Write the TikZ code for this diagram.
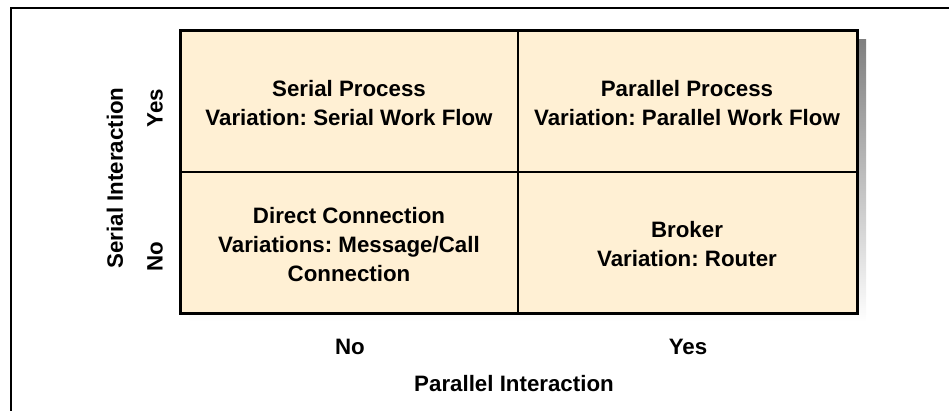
\documentclass[tikz,border=0pt]{standalone}
\usepackage{fontspec}
\setmainfont{Liberation Sans}
\frenchspacing
\definecolor{cellfill}{HTML}{FFF0D4}
\definecolor{shade}{HTML}{C0C0C0}
\tikzset{
  lbl/.style={font=\fontsize{22.3}{29}\selectfont\bfseries, align=center, inner sep=0pt},
}
\begin{document}
\begin{tikzpicture}[x=1pt,y=-1pt]
\useasboundingbox (0,0) rectangle (949,411);
% outer frame
\draw[line width=1.5pt] (11,411) -- (11,8) -- (949,8);
% shadow
\fill[shade] (189,40) rectangle (866,322);
% grid
\fill[cellfill] (180,31) rectangle (857,313);
\draw[line width=2pt] (180,172) -- (857,172);
\draw[line width=2pt] (518,31) -- (518,313);
\draw[line width=3pt] (180,31) rectangle (857,313);
% cell texts
\node[lbl] (sp) at (349,103) {Serial Process\\Variation: Serial Work Flow};
\node[lbl] (pp) at (687,103) {Parallel Process\\Variation: Parallel Work Flow};
\node[lbl] (dc) at (349,245) {Direct Connection\\Variations: Message/Call\\Connection};
\node[lbl] (br) at (687,244) {Broker\\Variation: Router};
% axis labels
\node[lbl, rotate=90] (si) at (115,178) {Serial Interaction};
\node[lbl, rotate=90] (sy) at (155,108) {Yes};
\node[lbl, rotate=90] (sn) at (155,257) {No};
\node[lbl] (pn) at (350,347) {No};
\node[lbl] (py) at (688,347) {Yes};
\node[lbl] (pi) at (514,384) {Parallel Interaction};
\end{tikzpicture}
\end{document}
